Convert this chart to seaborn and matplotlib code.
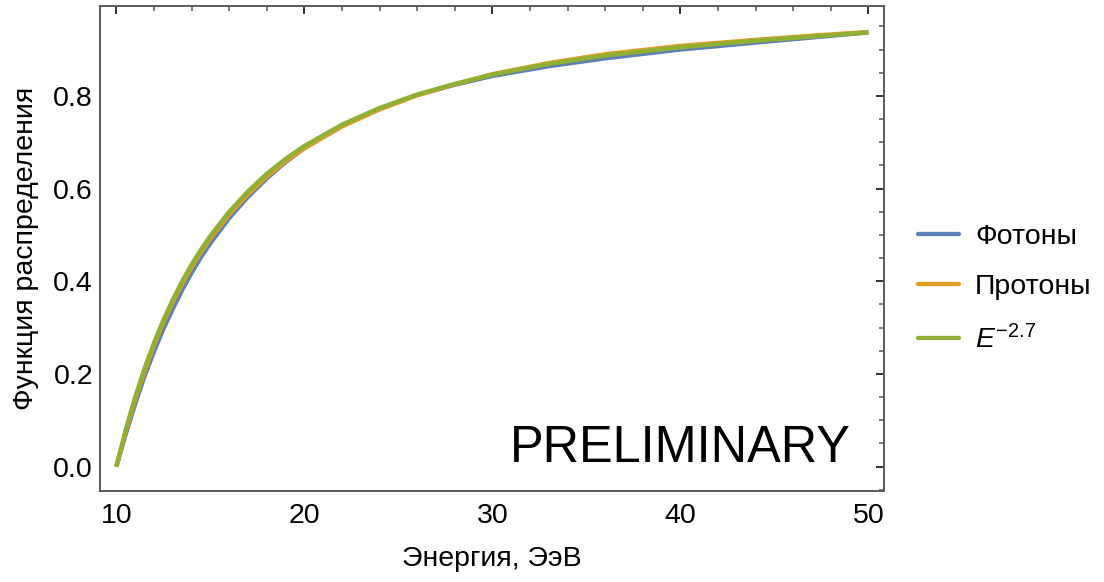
import numpy as np
import pandas as pd
import matplotlib
matplotlib.use("Agg")
import matplotlib.pyplot as plt
from matplotlib.ticker import MultipleLocator, FormatStrFormatter
import seaborn as sns

# ---- data ----
energy = [10, 10.5, 11, 11.5, 12, 12.5, 13, 13.5, 14, 14.5, 15, 16, 17, 18, 19, 20,
          22, 24, 26, 28, 30, 33, 36, 40, 44, 47, 50]
photons = [0.0, 0.070, 0.135, 0.195, 0.248, 0.297, 0.340, 0.381, 0.418, 0.452, 0.482,
           0.536, 0.582, 0.622, 0.657, 0.687,
           0.735, 0.772, 0.802, 0.824, 0.843, 0.864, 0.881, 0.900, 0.915, 0.926, 0.937]
protons = [0.0, 0.076, 0.145, 0.206, 0.262, 0.311, 0.355, 0.394, 0.430, 0.463, 0.492,
           0.544, 0.588, 0.626, 0.659, 0.687,
           0.734, 0.771, 0.801, 0.825, 0.847, 0.871, 0.890, 0.908, 0.921, 0.930, 0.938]
power_law = [0.0, 0.080, 0.150, 0.212, 0.267, 0.316, 0.360, 0.400, 0.436, 0.468, 0.498,
             0.550, 0.594, 0.632, 0.664, 0.692,
             0.738, 0.774, 0.803, 0.826, 0.846, 0.869, 0.887, 0.905, 0.919, 0.928, 0.937]

series_names = ["Фотоны", "Протоны", r"$E^{-2.7}$"]
colors = ["#5E81B5", "#E19C24", "#8FB032"]

x_ticks = [10, 20, 30, 40, 50]

df = pd.concat([
    pd.DataFrame({"E": energy, "F": photons, "s": series_names[0]}),
    pd.DataFrame({"E": energy, "F": protons, "s": series_names[1]}),
    pd.DataFrame({"E": energy, "F": power_law, "s": series_names[2]}),
], ignore_index=True)

sns.set_style("white")
plt.rcParams["font.family"] = ["Liberation Sans", "DejaVu Sans"]
plt.rcParams["text.color"] = "black"
plt.rcParams["axes.labelcolor"] = "black"
plt.rcParams["mathtext.fontset"] = "custom"
plt.rcParams["mathtext.rm"] = "Liberation Sans"
plt.rcParams["mathtext.it"] = "Liberation Sans:italic"

fig = plt.figure(figsize=(11.04, 5.82), dpi=100)
ax = fig.add_axes([100 / 1104, 1 - 490.7 / 582, 784 / 1104, 484.7 / 582])

sns.lineplot(data=df, x="E", y="F", hue="s", palette=dict(zip(series_names, colors)),
             hue_order=series_names, sort=False, linewidth=3.1, ax=ax, legend=True)
for ln in ax.lines:
    ln.set_solid_capstyle("butt")
    ln.set_solid_joinstyle("round")

ax.set_xlim(9.13, 50.83)
ax.set_ylim(-0.052, 0.994)
ax.set_xticks(x_ticks)
ax.xaxis.set_minor_locator(MultipleLocator(2))
ax.yaxis.set_major_locator(MultipleLocator(0.2))
ax.yaxis.set_minor_locator(MultipleLocator(0.05))
ax.yaxis.set_major_formatter(FormatStrFormatter("%.1f"))

for sp in ax.spines.values():
    sp.set_color("#5a5a5a")
    sp.set_linewidth(1.4)

ax.tick_params(which="both", direction="in", top=True, right=True)
ax.tick_params(which="major", length=6, width=1.2, color="#111111", labelsize=20.5, labelcolor="black")
ax.tick_params(which="minor", length=3.8, width=1.1, color="#555555")
ax.tick_params(axis="x", which="major", pad=9)
ax.tick_params(axis="y", which="major", pad=5)

ax.set_xlabel("Энергия, ЭэВ", fontsize=20.5, labelpad=12, color="black")
ax.set_ylabel("Функция распределения", fontsize=20.5, labelpad=10, color="black")

ax.text(0.957, 0.060, "PRELIMINARY", transform=ax.transAxes, ha="right", va="baseline",
        fontsize=36.4, color="black")

leg_old = ax.get_legend()
handles = leg_old.legend_handles
labels = [t.get_text() for t in leg_old.texts]
leg_old.remove()
for h in handles:
    h.set_linewidth(3.1)
ax.legend(handles, labels, loc="center left", bbox_to_anchor=(918 / 1104, 1 - 289 / 582),
          bbox_transform=fig.transFigure, frameon=False, fontsize=20.5, handlelength=1.45,
          handletextpad=0.55, labelspacing=0.85, borderpad=0, borderaxespad=0)

fig.savefig("out.png", dpi=100)
